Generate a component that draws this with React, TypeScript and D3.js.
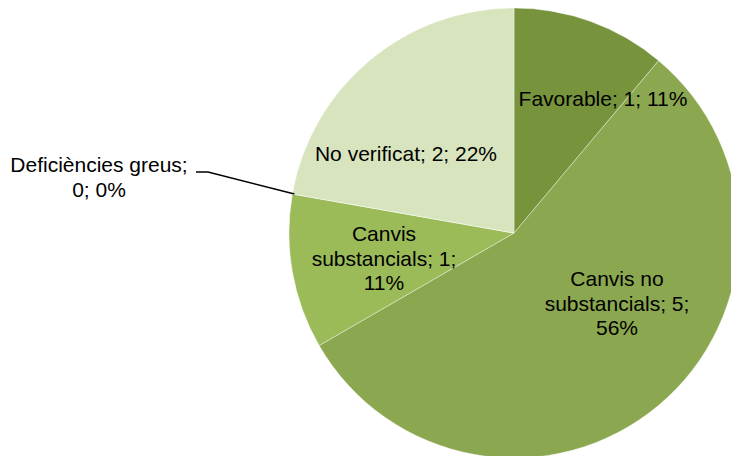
import React from "react";
import * as d3 from "d3";

// Inspection results per category
const categories = [
  "Favorable",
  "Canvis no substancials",
  "Canvis substancials",
  "Deficiències greus",
  "No verificat",
];
const counts = [1, 5, 1, 0, 2];
const colors = ["#77933C", "#8BA74F", "#9BBB59", "#8BA74F", "#D7E4BD"];

// Label text lines per category (name; value; percent)
const labelLines = [
  ["Favorable; 1; 11%"],
  ["Canvis no", "substancials; 5;", "56%"],
  ["Canvis", "substancials; 1;", "11%"],
  ["Deficiències greus;", "0; 0%"],
  ["No verificat; 2; 22%"],
];

// Label anchor (center x, first baseline y) in chart coordinates
const labelAnchors: [number, number][] = [
  [603, 106],
  [617, 286],
  [384, 241],
  [99, 172],
  [406, 161],
];

const W = 731;
const H = 456;
const cx = 514;
const cy = 233;
const R = 225;
const FONT = 21;
const LINE = 24.5;

export default function App() {
  const pie = d3
    .pie<number>()
    .sort(null)
    .value((d) => d)
    .startAngle(0)
    .endAngle(2 * Math.PI);
  const arcs = pie(counts);
  const arc = d3.arc<d3.PieArcDatum<number>>().innerRadius(0).outerRadius(R);

  // Leader line for the zero-valued slice
  const zero = arcs[3];
  const a = zero.startAngle;
  const px = cx + R * Math.sin(a);
  const py = cy - R * Math.cos(a);
  const leader = d3.line()([
    [px + 2, py],
    [208, 172],
    [196, 172],
  ]);

  return (
    <svg
      width={W}
      height={H}
      style={{ position: "absolute", left: 0, top: 0, display: "block" }}
    >
      <rect width={W} height={H} fill="#ffffff" />
      <g transform={`translate(${cx},${cy})`}>
        {arcs.map((d, i) => (
          <path
            key={categories[i]}
            d={arc(d) || ""}
            fill={colors[i]}
            stroke="#ffffff"
            strokeOpacity={0.5}
            strokeWidth={0.75}
          />
        ))}
      </g>
      <path d={leader || ""} fill="none" stroke="#000000" strokeWidth={1.5} />
      {labelLines.map((lines, i) => (
        <text
          key={categories[i]}
          fontFamily="Liberation Sans, Arial, sans-serif"
          fontSize={FONT}
          fill="#000000"
          textAnchor="middle"
        >
          {lines.map((t, j) => (
            <tspan key={j} x={labelAnchors[i][0]} y={labelAnchors[i][1] + j * LINE}>
              {t}
            </tspan>
          ))}
        </text>
      ))}
    </svg>
  );
}
